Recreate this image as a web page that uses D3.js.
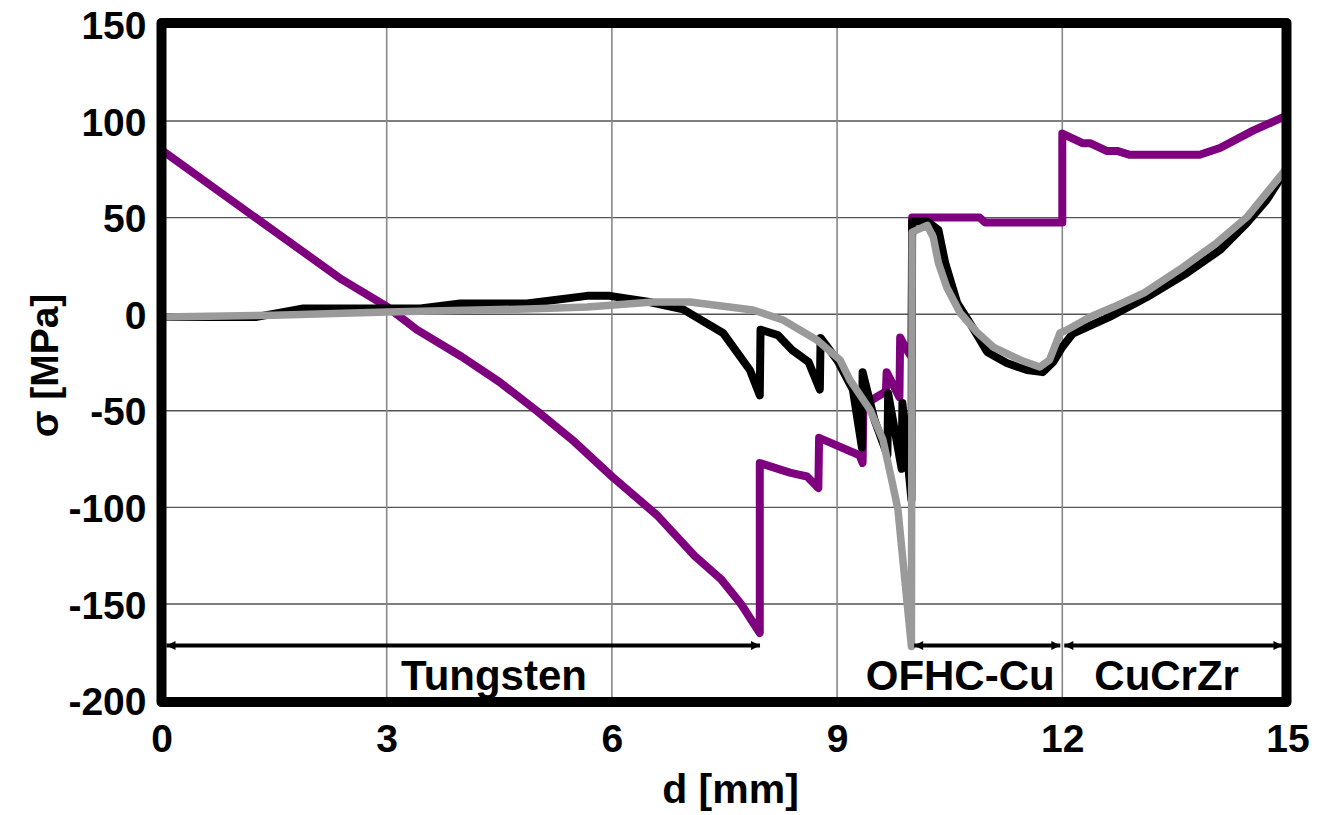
<!DOCTYPE html>
<html>
<head>
<meta charset="utf-8">
<script src="https://cdn.jsdelivr.net/npm/d3@7"></script>
<style>
  html, body { margin: 0; padding: 0; background: #fff; }
  svg { display: block; }
  text { font-family: "Liberation Sans", Arial, Helvetica, sans-serif; font-weight: bold; fill: #000; }
</style>
</head>
<body>
<svg id="chart" width="1318" height="815"></svg>
<script>
// Stress through the layered component, sigma [MPa] against depth d [mm]
const xTicks = [0, 3, 6, 9, 12, 15];
const yTicks = [150, 100, 50, 0, -50, -100, -150, -200];

// purple curve
const purpleSeries = [
  [0, 85], [1.25, 50], [2.4, 18], [3.0, 4], [3.4, -8], [4.0, -22], [4.5, -35],
  [5.0, -50], [5.5, -66], [6.0, -84], [6.6, -104], [7.1, -125], [7.45, -137],
  [7.72, -150], [7.97, -165], [7.97, -77], [8.37, -82], [8.6, -84], [8.75, -90],
  [8.76, -64], [8.94, -67], [9.3, -73], [9.34, -77], [9.35, -47], [9.65, -40],
  [9.66, -30], [9.83, -43], [9.84, -12], [9.92, -18], [9.99, -22], [10.0, 50],
  [10.9, 50], [10.97, 47.5], [12.0, 47.5], [12.0, 93.5], [12.27, 88.5],
  [12.37, 88.5], [12.59, 84.5], [12.73, 84.5], [12.9, 82.5], [13.83, 82.5],
  [14.1, 86], [14.54, 95], [15.0, 103]
];

// black curve
const blackSeries = [
  [0, -1.4], [1.27, -1.4], [1.89, 3], [3.45, 3], [3.98, 5.5], [4.87, 5.5],
  [5.67, 9.5], [5.97, 9.5], [6.5, 6.3], [6.95, 2.5], [7.48, -9.7], [7.84, -29],
  [7.97, -42], [7.98, -8], [8.21, -10.8], [8.4, -18.5], [8.62, -24.7],
  [8.77, -39], [8.78, -12.3], [9.0, -23.7], [9.21, -39], [9.33, -69],
  [9.34, -30], [9.5, -55], [9.67, -73], [9.68, -41], [9.86, -80], [9.87, -46],
  [9.99, -96], [10.0, 48], [10.2, 48], [10.35, 43.6], [10.44, 26.5],
  [10.6, 5.8], [10.77, -4.6], [11.0, -19.6], [11.26, -25.3], [11.53, -28.9],
  [11.74, -30], [11.88, -24.7], [12.0, -17], [12.14, -10], [12.63, -1.4],
  [13.13, 8.9], [13.66, 21.3], [14.1, 33.2], [14.46, 47.2], [14.72, 59],
  [15.0, 76]
];

// grey curve
const greySeries = [
  [0, -1.4], [1.5, -0.5], [3.0, 1.2], [4.87, 2.7], [5.67, 3.7], [6.55, 6.3],
  [7.04, 6.3], [7.88, 2.2], [8.28, -3], [8.73, -13.3], [9.04, -23.7],
  [9.17, -34], [9.44, -49.6], [9.61, -65], [9.74, -88], [9.81, -101],
  [9.99, -172], [10.0, 42.5], [10.2, 46], [10.28, 40], [10.35, 26.5],
  [10.46, 14], [10.64, 0.6], [10.86, -9.2], [11.08, -17], [11.44, -23.7],
  [11.7, -27.3], [11.83, -23.7], [11.97, -9.7], [12.06, -8.2], [12.37, -1.4],
  [12.68, 3.7], [13.09, 11], [13.61, 24.4], [14.06, 37], [14.46, 50.3],
  [14.72, 62.7], [15.0, 76]
];

// material zones: name, extent in d, label position
const zoneNames = ["Tungsten", "OFHC-Cu", "CuCrZr"];
const zoneFrom = [0, 10, 12];
const zoneTo = [8, 12, 15];
const zoneLabelAt = [4.43, 10.64, 13.39];
const zoneArrowY = -171.5;
const zoneLabelY = -194.6;

const svg = d3.select("#chart");
const plotLeft = 161.5, plotRight = 1287.5, plotTop = 24.4, plotBottom = 700.6;

const x = d3.scaleLinear().domain([0, 15]).range([plotLeft, plotRight]);
const y = d3.scaleLinear().domain([-200, 150]).range([plotBottom, plotTop]);

// grid
const grid = svg.append("g");
grid.selectAll("line.h").data(yTicks.filter(v => v > -200 && v < 150)).join("line")
  .attr("class", "h")
  .attr("x1", plotLeft).attr("x2", plotRight)
  .attr("y1", d => y(d)).attr("y2", d => y(d))
  .attr("stroke", "#555").attr("stroke-width", 1.4);
grid.selectAll("line.v").data(xTicks.filter(v => v > 0 && v < 15)).join("line")
  .attr("class", "v")
  .attr("x1", d => x(d)).attr("x2", d => x(d))
  .attr("y1", plotTop).attr("y2", plotBottom)
  .attr("stroke", "#888").attr("stroke-width", 1.6);

// axes (labels only; the frame is drawn separately)
const plainNumber = d => String(d);
const xAxis = d3.axisBottom(x).tickValues(xTicks).tickFormat(plainNumber).tickSize(0).tickPadding(0);
svg.append("g").attr("transform", `translate(0,${plotBottom})`).call(xAxis)
  .call(g => g.select(".domain").remove())
  .selectAll("text")
  .attr("y", 51).attr("dy", 0)
  .style("font-size", "39px");

const yAxis = d3.axisLeft(y).tickValues(yTicks).tickFormat(plainNumber).tickSize(0).tickPadding(0);
svg.append("g").attr("transform", `translate(${plotLeft},0)`).call(yAxis)
  .call(g => g.select(".domain").remove())
  .selectAll("text")
  .attr("x", -15).attr("dy", "0.36em")
  .style("font-size", "39px");

svg.selectAll(".tick text")
  .style("font-family", "'Liberation Sans', Arial, sans-serif")
  .style("font-weight", "bold").attr("fill", "#000");

// clip to plot area
svg.append("clipPath").attr("id", "plotClip")
  .append("rect").attr("x", plotLeft).attr("y", plotTop)
  .attr("width", plotRight - plotLeft).attr("height", plotBottom - plotTop);

const line = d3.line().x(d => x(d[0])).y(d => y(d[1]));
const plot = svg.append("g").attr("clip-path", "url(#plotClip)");

const seriesList = [
  { data: purpleSeries, color: "#7f007f", width: 8 },
  { data: blackSeries, color: "#000000", width: 8 },
  { data: greySeries, color: "#9a9a9a", width: 7.5 }
];
seriesList.forEach(s => {
  plot.append("path").datum(s.data)
    .attr("d", line)
    .attr("fill", "none")
    .attr("stroke", s.color)
    .attr("stroke-width", s.width)
    .attr("stroke-linejoin", "round");
});

// zone arrows
const defs = svg.append("defs");
defs.append("marker").attr("id", "arrowEnd")
  .attr("viewBox", "0 0 10 10").attr("refX", 10).attr("refY", 5)
  .attr("markerWidth", 11).attr("markerHeight", 9).attr("markerUnits", "userSpaceOnUse")
  .attr("orient", "auto")
  .append("path").attr("d", "M0,0 L10,5 L0,10 Z").attr("fill", "#000");
defs.append("marker").attr("id", "arrowStart")
  .attr("viewBox", "0 0 10 10").attr("refX", 0).attr("refY", 5)
  .attr("markerWidth", 11).attr("markerHeight", 9).attr("markerUnits", "userSpaceOnUse")
  .attr("orient", "auto")
  .append("path").attr("d", "M10,0 L0,5 L10,10 Z").attr("fill", "#000");

const zones = svg.append("g");
zoneNames.forEach((name, i) => {
  const x1 = x(zoneFrom[i]) + (i === 0 ? 5 : 2);
  const x2 = x(zoneTo[i]) - (i === 2 ? 5 : 2);
  zones.append("line")
    .attr("x1", x1).attr("x2", x2)
    .attr("y1", y(zoneArrowY)).attr("y2", y(zoneArrowY))
    .attr("stroke", "#000").attr("stroke-width", 4)
    .attr("marker-start", "url(#arrowStart)")
    .attr("marker-end", "url(#arrowEnd)");
  zones.append("text")
    .attr("x", x(zoneLabelAt[i])).attr("y", y(zoneLabelY))
    .attr("text-anchor", "middle")
    .style("font-size", "42px")
    .text(name);
});

// frame
svg.append("rect")
  .attr("x", plotLeft).attr("y", plotTop - 1.5)
  .attr("width", plotRight - plotLeft - 1).attr("height", plotBottom - plotTop + 3)
  .attr("fill", "none").attr("stroke", "#000").attr("stroke-width", 10)
  .attr("stroke-linejoin", "round");

// axis titles
svg.append("text")
  .attr("x", (plotLeft + plotRight) / 2 + 6).attr("y", 803)
  .attr("text-anchor", "middle")
  .style("font-size", "41px")
  .text("d [mm]");
svg.append("text")
  .attr("transform", `translate(58,${(plotTop + plotBottom) / 2 + 3}) rotate(-90)`)
  .attr("text-anchor", "middle")
  .style("font-size", "39px")
  .text("σ [MPa]");
</script>
</body>
</html>
